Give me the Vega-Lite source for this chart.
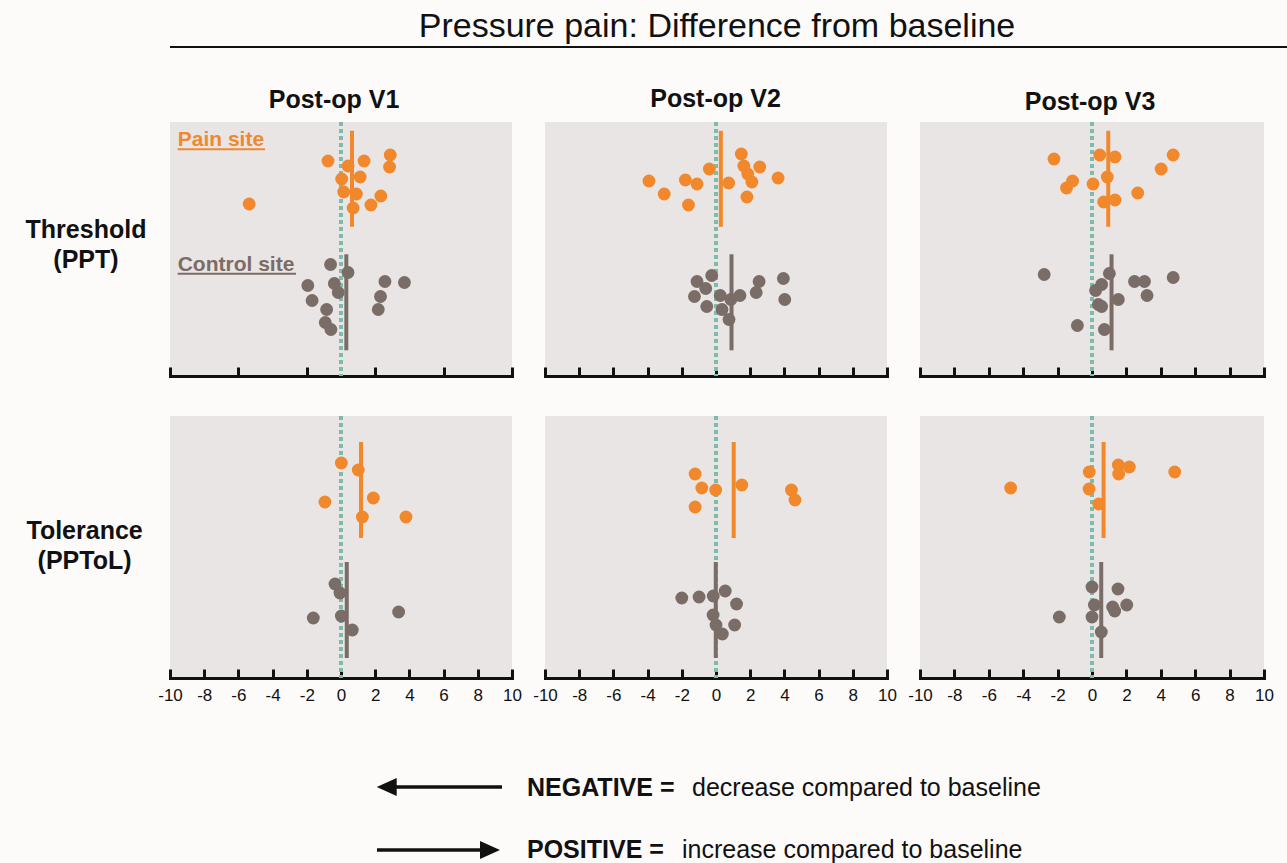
{
 "$schema": "https://vega.github.io/schema/vega-lite/v6.json",
 "background": "#FCFBF9",
 "padding": {"left": 25, "top": 0, "right": 0, "bottom": 0},
 "config": {"font": "Liberation Sans", "view": {"stroke": null},
  "axisX": {"title": null, "grid": false, "domainColor": "#111111", "domainWidth": 3, "domainCap": "square", "tickColor": "#111111", "tickWidth": 3, "tickSize": -9, "zindex": 1, "labelFontSize": 17, "labelColor": "#111111", "labelPadding": 18, "labelFlush": false, "labelOverlap": false}},
 "datasets": {
  "dots": [
   {"visit":"V1","measure":"PPT","site":"Pain site","value":-0.76,"jitter":18},
   {"visit":"V1","measure":"PPT","site":"Pain site","value":0.41,"jitter":13},
   {"visit":"V1","measure":"PPT","site":"Pain site","value":1.35,"jitter":18},
   {"visit":"V1","measure":"PPT","site":"Pain site","value":2.88,"jitter":24},
   {"visit":"V1","measure":"PPT","site":"Pain site","value":2.84,"jitter":12},
   {"visit":"V1","measure":"PPT","site":"Pain site","value":0.04,"jitter":0},
   {"visit":"V1","measure":"PPT","site":"Pain site","value":1.12,"jitter":2},
   {"visit":"V1","measure":"PPT","site":"Pain site","value":0.16,"jitter":-13},
   {"visit":"V1","measure":"PPT","site":"Pain site","value":0.90,"jitter":-15},
   {"visit":"V1","measure":"PPT","site":"Pain site","value":2.33,"jitter":-17},
   {"visit":"V1","measure":"PPT","site":"Pain site","value":1.75,"jitter":-26},
   {"visit":"V1","measure":"PPT","site":"Pain site","value":0.71,"jitter":-29},
   {"visit":"V1","measure":"PPT","site":"Pain site","value":-5.37,"jitter":-25},
   {"visit":"V1","measure":"PPT","site":"Control site","value":-0.61,"jitter":38},
   {"visit":"V1","measure":"PPT","site":"Control site","value":0.41,"jitter":30},
   {"visit":"V1","measure":"PPT","site":"Control site","value":-1.94,"jitter":17},
   {"visit":"V1","measure":"PPT","site":"Control site","value":-0.39,"jitter":19},
   {"visit":"V1","measure":"PPT","site":"Control site","value":-0.16,"jitter":10},
   {"visit":"V1","measure":"PPT","site":"Control site","value":-1.69,"jitter":2},
   {"visit":"V1","measure":"PPT","site":"Control site","value":-0.84,"jitter":-7},
   {"visit":"V1","measure":"PPT","site":"Control site","value":-0.92,"jitter":-20},
   {"visit":"V1","measure":"PPT","site":"Control site","value":-0.59,"jitter":-27},
   {"visit":"V1","measure":"PPT","site":"Control site","value":2.57,"jitter":21},
   {"visit":"V1","measure":"PPT","site":"Control site","value":3.71,"jitter":20},
   {"visit":"V1","measure":"PPT","site":"Control site","value":2.31,"jitter":6},
   {"visit":"V1","measure":"PPT","site":"Control site","value":2.18,"jitter":-7},
   {"visit":"V2","measure":"PPT","site":"Pain site","value":1.48,"jitter":25},
   {"visit":"V2","measure":"PPT","site":"Pain site","value":1.63,"jitter":13},
   {"visit":"V2","measure":"PPT","site":"Pain site","value":2.56,"jitter":12},
   {"visit":"V2","measure":"PPT","site":"Pain site","value":-0.39,"jitter":10},
   {"visit":"V2","measure":"PPT","site":"Pain site","value":1.86,"jitter":5},
   {"visit":"V2","measure":"PPT","site":"Pain site","value":2.10,"jitter":-3},
   {"visit":"V2","measure":"PPT","site":"Pain site","value":3.63,"jitter":1},
   {"visit":"V2","measure":"PPT","site":"Pain site","value":0.74,"jitter":-4},
   {"visit":"V2","measure":"PPT","site":"Pain site","value":-3.92,"jitter":-2},
   {"visit":"V2","measure":"PPT","site":"Pain site","value":-1.79,"jitter":-1},
   {"visit":"V2","measure":"PPT","site":"Pain site","value":-1.11,"jitter":-5},
   {"visit":"V2","measure":"PPT","site":"Pain site","value":-3.03,"jitter":-15},
   {"visit":"V2","measure":"PPT","site":"Pain site","value":-1.61,"jitter":-26},
   {"visit":"V2","measure":"PPT","site":"Pain site","value":1.81,"jitter":-18},
   {"visit":"V2","measure":"PPT","site":"Control site","value":-0.25,"jitter":27},
   {"visit":"V2","measure":"PPT","site":"Control site","value":-1.11,"jitter":21},
   {"visit":"V2","measure":"PPT","site":"Control site","value":-0.60,"jitter":14},
   {"visit":"V2","measure":"PPT","site":"Control site","value":-1.26,"jitter":6},
   {"visit":"V2","measure":"PPT","site":"Control site","value":0.25,"jitter":7},
   {"visit":"V2","measure":"PPT","site":"Control site","value":0.87,"jitter":3},
   {"visit":"V2","measure":"PPT","site":"Control site","value":1.40,"jitter":7},
   {"visit":"V2","measure":"PPT","site":"Control site","value":2.52,"jitter":21},
   {"visit":"V2","measure":"PPT","site":"Control site","value":2.35,"jitter":10},
   {"visit":"V2","measure":"PPT","site":"Control site","value":3.94,"jitter":24},
   {"visit":"V2","measure":"PPT","site":"Control site","value":4.02,"jitter":3},
   {"visit":"V2","measure":"PPT","site":"Control site","value":-0.54,"jitter":-4},
   {"visit":"V2","measure":"PPT","site":"Control site","value":0.35,"jitter":-7},
   {"visit":"V2","measure":"PPT","site":"Control site","value":0.76,"jitter":-17},
   {"visit":"V3","measure":"PPT","site":"Pain site","value":-2.21,"jitter":20},
   {"visit":"V3","measure":"PPT","site":"Pain site","value":0.45,"jitter":24},
   {"visit":"V3","measure":"PPT","site":"Pain site","value":1.34,"jitter":22},
   {"visit":"V3","measure":"PPT","site":"Pain site","value":4.72,"jitter":24},
   {"visit":"V3","measure":"PPT","site":"Pain site","value":4.02,"jitter":10},
   {"visit":"V3","measure":"PPT","site":"Pain site","value":0.89,"jitter":2},
   {"visit":"V3","measure":"PPT","site":"Pain site","value":-1.13,"jitter":-2},
   {"visit":"V3","measure":"PPT","site":"Pain site","value":-1.48,"jitter":-9},
   {"visit":"V3","measure":"PPT","site":"Pain site","value":0.06,"jitter":-5},
   {"visit":"V3","measure":"PPT","site":"Pain site","value":2.66,"jitter":-14},
   {"visit":"V3","measure":"PPT","site":"Pain site","value":0.68,"jitter":-23},
   {"visit":"V3","measure":"PPT","site":"Pain site","value":1.34,"jitter":-21},
   {"visit":"V3","measure":"PPT","site":"Control site","value":-2.78,"jitter":28},
   {"visit":"V3","measure":"PPT","site":"Control site","value":1.01,"jitter":29},
   {"visit":"V3","measure":"PPT","site":"Control site","value":2.47,"jitter":21},
   {"visit":"V3","measure":"PPT","site":"Control site","value":3.05,"jitter":21},
   {"visit":"V3","measure":"PPT","site":"Control site","value":4.72,"jitter":25},
   {"visit":"V3","measure":"PPT","site":"Control site","value":0.56,"jitter":18},
   {"visit":"V3","measure":"PPT","site":"Control site","value":0.21,"jitter":12},
   {"visit":"V3","measure":"PPT","site":"Control site","value":3.20,"jitter":7},
   {"visit":"V3","measure":"PPT","site":"Control site","value":1.53,"jitter":3},
   {"visit":"V3","measure":"PPT","site":"Control site","value":0.37,"jitter":-2},
   {"visit":"V3","measure":"PPT","site":"Control site","value":0.56,"jitter":-4},
   {"visit":"V3","measure":"PPT","site":"Control site","value":-0.85,"jitter":-23},
   {"visit":"V3","measure":"PPT","site":"Control site","value":0.72,"jitter":-27},
   {"visit":"V1","measure":"PPToL","site":"Pain site","value":0.02,"jitter":27},
   {"visit":"V1","measure":"PPToL","site":"Pain site","value":1.01,"jitter":20},
   {"visit":"V1","measure":"PPToL","site":"Pain site","value":1.89,"jitter":-8},
   {"visit":"V1","measure":"PPToL","site":"Pain site","value":-0.94,"jitter":-12},
   {"visit":"V1","measure":"PPToL","site":"Pain site","value":1.25,"jitter":-27},
   {"visit":"V1","measure":"PPToL","site":"Pain site","value":3.80,"jitter":-27},
   {"visit":"V1","measure":"PPToL","site":"Control site","value":-0.35,"jitter":26},
   {"visit":"V1","measure":"PPToL","site":"Control site","value":-0.06,"jitter":17},
   {"visit":"V1","measure":"PPToL","site":"Control site","value":-1.62,"jitter":-8},
   {"visit":"V1","measure":"PPToL","site":"Control site","value":0.02,"jitter":-6},
   {"visit":"V1","measure":"PPToL","site":"Control site","value":3.37,"jitter":-2},
   {"visit":"V1","measure":"PPToL","site":"Control site","value":0.66,"jitter":-20},
   {"visit":"V2","measure":"PPToL","site":"Pain site","value":-1.22,"jitter":16},
   {"visit":"V2","measure":"PPToL","site":"Pain site","value":-0.83,"jitter":2},
   {"visit":"V2","measure":"PPToL","site":"Pain site","value":-0.02,"jitter":0},
   {"visit":"V2","measure":"PPToL","site":"Pain site","value":1.51,"jitter":5},
   {"visit":"V2","measure":"PPToL","site":"Pain site","value":-1.22,"jitter":-17},
   {"visit":"V2","measure":"PPToL","site":"Pain site","value":4.41,"jitter":0},
   {"visit":"V2","measure":"PPToL","site":"Pain site","value":4.62,"jitter":-10},
   {"visit":"V2","measure":"PPToL","site":"Control site","value":0.54,"jitter":19},
   {"visit":"V2","measure":"PPToL","site":"Control site","value":-2.0,"jitter":12},
   {"visit":"V2","measure":"PPToL","site":"Control site","value":-0.99,"jitter":13},
   {"visit":"V2","measure":"PPToL","site":"Control site","value":-0.16,"jitter":14},
   {"visit":"V2","measure":"PPToL","site":"Control site","value":1.20,"jitter":6},
   {"visit":"V2","measure":"PPToL","site":"Control site","value":-0.17,"jitter":-5},
   {"visit":"V2","measure":"PPToL","site":"Control site","value":0.0,"jitter":-15},
   {"visit":"V2","measure":"PPToL","site":"Control site","value":1.09,"jitter":-15},
   {"visit":"V2","measure":"PPToL","site":"Control site","value":0.37,"jitter":-24},
   {"visit":"V3","measure":"PPToL","site":"Pain site","value":1.53,"jitter":25},
   {"visit":"V3","measure":"PPToL","site":"Pain site","value":2.17,"jitter":23},
   {"visit":"V3","measure":"PPToL","site":"Pain site","value":1.55,"jitter":16},
   {"visit":"V3","measure":"PPToL","site":"Pain site","value":-0.16,"jitter":18},
   {"visit":"V3","measure":"PPToL","site":"Pain site","value":4.81,"jitter":18},
   {"visit":"V3","measure":"PPToL","site":"Pain site","value":-4.73,"jitter":2},
   {"visit":"V3","measure":"PPToL","site":"Pain site","value":-0.17,"jitter":1},
   {"visit":"V3","measure":"PPToL","site":"Pain site","value":0.39,"jitter":-14},
   {"visit":"V3","measure":"PPToL","site":"Control site","value":0.0,"jitter":23},
   {"visit":"V3","measure":"PPToL","site":"Control site","value":1.51,"jitter":21},
   {"visit":"V3","measure":"PPToL","site":"Control site","value":0.14,"jitter":5},
   {"visit":"V3","measure":"PPToL","site":"Control site","value":1.20,"jitter":3},
   {"visit":"V3","measure":"PPToL","site":"Control site","value":1.32,"jitter":-1},
   {"visit":"V3","measure":"PPToL","site":"Control site","value":2.02,"jitter":5},
   {"visit":"V3","measure":"PPToL","site":"Control site","value":-1.90,"jitter":-7},
   {"visit":"V3","measure":"PPToL","site":"Control site","value":0.0,"jitter":-7},
   {"visit":"V3","measure":"PPToL","site":"Control site","value":0.54,"jitter":-22}
  ]
 },
 "bounds": "flush",
 "columns": 3,
 "spacing": {"row": 40, "column": 33},
 "resolve": {"scale": {"x": "independent", "y": "independent", "yOffset": "independent", "color": "independent"}},
 "concat": [
  {
   "width": 342, "height": 82,
   "data": {"values": [{}]},
   "layer": [
    {"mark": {"type": "rule", "color": "#111111", "strokeWidth": 2},
     "encoding": {
      "x": {"datum": 0, "type": "quantitative", "scale": {"domain": [0, 342], "nice": false, "zero": false}, "axis": null},
      "x2": {"datum": 375},
      "y": {"datum": 47, "type": "quantitative", "scale": {"domain": [0, 82], "reverse": true, "nice": false, "zero": false}, "axis": null}}},
    {"mark": {"type": "text", "fontSize": 25, "fontWeight": "bold", "color": "#111111", "align": "center", "baseline": "alphabetic"},
     "encoding": {"x": {"datum": 164, "type": "quantitative"}, "y": {"datum": 108, "type": "quantitative"}, "text": {"value": "Post-op V1"}}}
   ]
  },
  {
   "width": 342, "height": 82,
   "data": {"values": [{}]},
   "layer": [
    {"mark": {"type": "rule", "color": "#111111", "strokeWidth": 2},
     "encoding": {
      "x": {"datum": 0, "type": "quantitative", "scale": {"domain": [0, 342], "nice": false, "zero": false}, "axis": null},
      "x2": {"datum": 375},
      "y": {"datum": 47, "type": "quantitative", "scale": {"domain": [0, 82], "reverse": true, "nice": false, "zero": false}, "axis": null}}},
    {"mark": {"type": "text", "fontSize": 34, "color": "#111111", "align": "center", "baseline": "alphabetic"},
     "encoding": {"x": {"datum": 172, "type": "quantitative"}, "y": {"datum": 37, "type": "quantitative"}, "text": {"value": "Pressure pain: Difference from baseline"}}},
    {"mark": {"type": "text", "fontSize": 25, "fontWeight": "bold", "color": "#111111", "align": "center", "baseline": "alphabetic"},
     "encoding": {"x": {"datum": 170.5, "type": "quantitative"}, "y": {"datum": 106.7, "type": "quantitative"}, "text": {"value": "Post-op V2"}}}
   ]
  },
  {
   "width": 344, "height": 82,
   "data": {"values": [{}]},
   "layer": [
    {"mark": {"type": "rule", "color": "#111111", "strokeWidth": 2},
     "encoding": {
      "x": {"datum": 0, "type": "quantitative", "scale": {"domain": [0, 344], "nice": false, "zero": false}, "axis": null},
      "x2": {"datum": 367},
      "y": {"datum": 47, "type": "quantitative", "scale": {"domain": [0, 82], "reverse": true, "nice": false, "zero": false}, "axis": null}}},
    {"mark": {"type": "text", "fontSize": 25, "fontWeight": "bold", "color": "#111111", "align": "center", "baseline": "alphabetic"},
     "encoding": {"x": {"datum": 170, "type": "quantitative"}, "y": {"datum": 110, "type": "quantitative"}, "text": {"value": "Post-op V3"}}}
   ]
  },
  {
   "width": 342, "height": 254,
   "view": {"fill": "#E9E5E4", "stroke": null},
   "layer": [
    {"data": {"values": [{}]},
     "mark": {"type": "rule", "color": "#7BBCAD", "strokeWidth": 4, "strokeDash": [4, 3]},
     "encoding": {"x": {"datum": 0, "type": "quantitative", "scale": {"domain": [-10, 10], "nice": false, "zero": false},
       "axis": {"values": [-10,-8,-6,-4,-2,0,2,4,6,8,10], "labels": false}}}},
    {"data": {"name": "dots"},
     "transform": [{"filter": "datum.visit == 'V1' && datum.measure == 'PPT'"}, {"aggregate": [{"op": "mean", "field": "value", "as": "mean"}], "groupby": ["site"]}],
     "mark": {"type": "tick", "thickness": 4, "size": 96, "opacity": 1},
     "encoding": {
      "x": {"field": "mean", "type": "quantitative", "axis": {"values": [-10,-8,-6,-4,-2,0,2,4,6,8,10], "labels": false}},
      "y": {"field": "site", "type": "nominal", "scale": {"type": "band", "domain": ["Pain site", "Control site"], "paddingInner": 0.226, "paddingOuter": 0.141, "align": 0.257},
        "axis": {"title": ["Threshold", "(PPT)"], "labels": false, "ticks": false, "domain": false, "grid": false, "titleAngle": 0, "titleX": -84.5, "titleY": 115, "titleAlign": "center", "titleBaseline": "alphabetic", "titleFontSize": 25, "titleFontWeight": "bold", "titleLineHeight": 30, "titleColor": "#111111"}},
      "color": {"field": "site", "type": "nominal", "scale": {"domain": ["Pain site", "Control site"], "range": ["#F1882C", "#7A6C67"]}, "legend": null}}},
    {"data": {"name": "dots"},
     "transform": [{"filter": "datum.visit == 'V1' && datum.measure == 'PPT'"}],
     "mark": {"type": "circle", "size": 165, "opacity": 1},
     "encoding": {
      "x": {"field": "value", "type": "quantitative", "axis": {"values": [-10,-8,-6,-4,-2,0,2,4,6,8,10], "labels": false}},
      "y": {"field": "site", "type": "nominal"},
      "yOffset": {"field": "jitter", "type": "quantitative", "scale": {"domain": [-48, 48], "range": [96, 0], "nice": false, "zero": false}},
      "color": {"field": "site", "type": "nominal", "legend": null}}},
    {"data": {"values": [{}]},
     "mark": {"type": "text", "fontSize": 21, "fontWeight": "bold", "align": "left", "baseline": "alphabetic", "dy": -33, "color": "#F1882C"},
     "encoding": {"x": {"datum": -9.55, "type": "quantitative"}, "y": {"datum": "Pain site", "type": "nominal"}, "text": {"value": "Pain site"}}},
    {"data": {"values": [{}]},
     "mark": {"type": "rule", "strokeWidth": 2, "yOffset": -29.5, "color": "#F1882C"},
     "encoding": {"x": {"datum": -9.55, "type": "quantitative"}, "x2": {"datum": -4.44}, "y": {"datum": "Pain site", "type": "nominal"}}},
    {"data": {"values": [{}]},
     "mark": {"type": "text", "fontSize": 21, "fontWeight": "bold", "align": "left", "baseline": "alphabetic", "dy": -31, "color": "#7A6C67"},
     "encoding": {"x": {"datum": -9.55, "type": "quantitative"}, "y": {"datum": "Control site", "type": "nominal"}, "text": {"value": "Control site"}}},
    {"data": {"values": [{}]},
     "mark": {"type": "rule", "strokeWidth": 2, "yOffset": -28.5, "color": "#7A6C67"},
     "encoding": {"x": {"datum": -9.55, "type": "quantitative"}, "x2": {"datum": -2.63}, "y": {"datum": "Control site", "type": "nominal"}}}
   ]
  },
  {
   "width": 342, "height": 254,
   "view": {"fill": "#E9E5E4", "stroke": null},
   "layer": [
    {"data": {"values": [{}]},
     "mark": {"type": "rule", "color": "#7BBCAD", "strokeWidth": 4, "strokeDash": [4, 3]},
     "encoding": {"x": {"datum": 0, "type": "quantitative", "scale": {"domain": [-10, 10], "nice": false, "zero": false},
       "axis": {"values": [-10,-8,-6,-4,-2,0,2,4,6,8,10], "labels": false}}}},
    {"data": {"name": "dots"},
     "transform": [{"filter": "datum.visit == 'V2' && datum.measure == 'PPT'"}, {"aggregate": [{"op": "mean", "field": "value", "as": "mean"}], "groupby": ["site"]}],
     "mark": {"type": "tick", "thickness": 4, "size": 96, "opacity": 1},
     "encoding": {
      "x": {"field": "mean", "type": "quantitative", "axis": {"values": [-10,-8,-6,-4,-2,0,2,4,6,8,10], "labels": false}},
      "y": {"field": "site", "type": "nominal", "scale": {"type": "band", "domain": ["Pain site", "Control site"], "paddingInner": 0.226, "paddingOuter": 0.141, "align": 0.257}, "axis": null},
      "color": {"field": "site", "type": "nominal", "scale": {"domain": ["Pain site", "Control site"], "range": ["#F1882C", "#7A6C67"]}, "legend": null}}},
    {"data": {"name": "dots"},
     "transform": [{"filter": "datum.visit == 'V2' && datum.measure == 'PPT'"}],
     "mark": {"type": "circle", "size": 165, "opacity": 1},
     "encoding": {
      "x": {"field": "value", "type": "quantitative", "axis": {"values": [-10,-8,-6,-4,-2,0,2,4,6,8,10], "labels": false}},
      "y": {"field": "site", "type": "nominal", "axis": null},
      "yOffset": {"field": "jitter", "type": "quantitative", "scale": {"domain": [-48, 48], "range": [96, 0], "nice": false, "zero": false}},
      "color": {"field": "site", "type": "nominal", "legend": null}}}
   ]
  },
  {
   "width": 344, "height": 254,
   "view": {"fill": "#E9E5E4", "stroke": null},
   "layer": [
    {"data": {"values": [{}]},
     "mark": {"type": "rule", "color": "#7BBCAD", "strokeWidth": 4, "strokeDash": [4, 3]},
     "encoding": {"x": {"datum": 0, "type": "quantitative", "scale": {"domain": [-10, 10], "nice": false, "zero": false},
       "axis": {"values": [-10,-8,-6,-4,-2,0,2,4,6,8,10], "labels": false}}}},
    {"data": {"name": "dots"},
     "transform": [{"filter": "datum.visit == 'V3' && datum.measure == 'PPT'"}, {"aggregate": [{"op": "mean", "field": "value", "as": "mean"}], "groupby": ["site"]}],
     "mark": {"type": "tick", "thickness": 4, "size": 96, "opacity": 1},
     "encoding": {
      "x": {"field": "mean", "type": "quantitative", "axis": {"values": [-10,-8,-6,-4,-2,0,2,4,6,8,10], "labels": false}},
      "y": {"field": "site", "type": "nominal", "scale": {"type": "band", "domain": ["Pain site", "Control site"], "paddingInner": 0.226, "paddingOuter": 0.141, "align": 0.257}, "axis": null},
      "color": {"field": "site", "type": "nominal", "scale": {"domain": ["Pain site", "Control site"], "range": ["#F1882C", "#7A6C67"]}, "legend": null}}},
    {"data": {"name": "dots"},
     "transform": [{"filter": "datum.visit == 'V3' && datum.measure == 'PPT'"}],
     "mark": {"type": "circle", "size": 165, "opacity": 1},
     "encoding": {
      "x": {"field": "value", "type": "quantitative", "axis": {"values": [-10,-8,-6,-4,-2,0,2,4,6,8,10], "labels": false}},
      "y": {"field": "site", "type": "nominal", "axis": null},
      "yOffset": {"field": "jitter", "type": "quantitative", "scale": {"domain": [-48, 48], "range": [96, 0], "nice": false, "zero": false}},
      "color": {"field": "site", "type": "nominal", "legend": null}}}
   ]
  },
  {
   "width": 342, "height": 262,
   "view": {"fill": "#E9E5E4", "stroke": null},
   "layer": [
    {"data": {"values": [{}]},
     "mark": {"type": "rule", "color": "#7BBCAD", "strokeWidth": 4, "strokeDash": [4, 3]},
     "encoding": {"x": {"datum": 0, "type": "quantitative", "scale": {"domain": [-10, 10], "nice": false, "zero": false},
       "axis": {"values": [-10,-8,-6,-4,-2,0,2,4,6,8,10], "labelExpr": "datum.value + ''"}}}},
    {"data": {"name": "dots"},
     "transform": [{"filter": "datum.visit == 'V1' && datum.measure == 'PPToL'"}, {"aggregate": [{"op": "mean", "field": "value", "as": "mean"}], "groupby": ["site"]}],
     "mark": {"type": "tick", "thickness": 4, "size": 96, "opacity": 1},
     "encoding": {
      "x": {"field": "mean", "type": "quantitative", "axis": {"values": [-10,-8,-6,-4,-2,0,2,4,6,8,10], "labelExpr": "datum.value + ''"}},
      "y": {"field": "site", "type": "nominal", "scale": {"type": "band", "domain": ["Pain site", "Control site"], "paddingInner": 0.2, "paddingOuter": 0.192, "align": 0.565},
        "axis": {"title": ["Tolerance", "(PPToL)"], "labels": false, "ticks": false, "domain": false, "grid": false, "titleAngle": 0, "titleX": -85.9, "titleY": 122, "titleAlign": "center", "titleBaseline": "alphabetic", "titleFontSize": 25, "titleFontWeight": "bold", "titleLineHeight": 30, "titleColor": "#111111"}},
      "color": {"field": "site", "type": "nominal", "scale": {"domain": ["Pain site", "Control site"], "range": ["#F1882C", "#7A6C67"]}, "legend": null}}},
    {"data": {"name": "dots"},
     "transform": [{"filter": "datum.visit == 'V1' && datum.measure == 'PPToL'"}],
     "mark": {"type": "circle", "size": 165, "opacity": 1},
     "encoding": {
      "x": {"field": "value", "type": "quantitative", "axis": {"values": [-10,-8,-6,-4,-2,0,2,4,6,8,10], "labelExpr": "datum.value + ''"}},
      "y": {"field": "site", "type": "nominal"},
      "yOffset": {"field": "jitter", "type": "quantitative", "scale": {"domain": [-48, 48], "range": [96, 0], "nice": false, "zero": false}},
      "color": {"field": "site", "type": "nominal", "legend": null}}}
   ]
  },
  {
   "width": 342, "height": 262,
   "view": {"fill": "#E9E5E4", "stroke": null},
   "layer": [
    {"data": {"values": [{}]},
     "mark": {"type": "rule", "color": "#7BBCAD", "strokeWidth": 4, "strokeDash": [4, 3]},
     "encoding": {"x": {"datum": 0, "type": "quantitative", "scale": {"domain": [-10, 10], "nice": false, "zero": false},
       "axis": {"values": [-10,-8,-6,-4,-2,0,2,4,6,8,10], "labelExpr": "datum.value + ''"}}}},
    {"data": {"name": "dots"},
     "transform": [{"filter": "datum.visit == 'V2' && datum.measure == 'PPToL'"}, {"aggregate": [{"op": "mean", "field": "value", "as": "mean"}], "groupby": ["site"]}],
     "mark": {"type": "tick", "thickness": 4, "size": 96, "opacity": 1},
     "encoding": {
      "x": {"field": "mean", "type": "quantitative", "axis": {"values": [-10,-8,-6,-4,-2,0,2,4,6,8,10], "labelExpr": "datum.value + ''"}},
      "y": {"field": "site", "type": "nominal", "scale": {"type": "band", "domain": ["Pain site", "Control site"], "paddingInner": 0.2, "paddingOuter": 0.192, "align": 0.565}, "axis": null},
      "color": {"field": "site", "type": "nominal", "scale": {"domain": ["Pain site", "Control site"], "range": ["#F1882C", "#7A6C67"]}, "legend": null}}},
    {"data": {"name": "dots"},
     "transform": [{"filter": "datum.visit == 'V2' && datum.measure == 'PPToL'"}],
     "mark": {"type": "circle", "size": 165, "opacity": 1},
     "encoding": {
      "x": {"field": "value", "type": "quantitative", "axis": {"values": [-10,-8,-6,-4,-2,0,2,4,6,8,10], "labelExpr": "datum.value + ''"}},
      "y": {"field": "site", "type": "nominal", "axis": null},
      "yOffset": {"field": "jitter", "type": "quantitative", "scale": {"domain": [-48, 48], "range": [96, 0], "nice": false, "zero": false}},
      "color": {"field": "site", "type": "nominal", "legend": null}}}
   ]
  },
  {
   "width": 344, "height": 262,
   "view": {"fill": "#E9E5E4", "stroke": null},
   "layer": [
    {"data": {"values": [{}]},
     "mark": {"type": "rule", "color": "#7BBCAD", "strokeWidth": 4, "strokeDash": [4, 3]},
     "encoding": {"x": {"datum": 0, "type": "quantitative", "scale": {"domain": [-10, 10], "nice": false, "zero": false},
       "axis": {"values": [-10,-8,-6,-4,-2,0,2,4,6,8,10], "labelExpr": "datum.value + ''"}}}},
    {"data": {"name": "dots"},
     "transform": [{"filter": "datum.visit == 'V3' && datum.measure == 'PPToL'"}, {"aggregate": [{"op": "mean", "field": "value", "as": "mean"}], "groupby": ["site"]}],
     "mark": {"type": "tick", "thickness": 4, "size": 96, "opacity": 1},
     "encoding": {
      "x": {"field": "mean", "type": "quantitative", "axis": {"values": [-10,-8,-6,-4,-2,0,2,4,6,8,10], "labelExpr": "datum.value + ''"}},
      "y": {"field": "site", "type": "nominal", "scale": {"type": "band", "domain": ["Pain site", "Control site"], "paddingInner": 0.2, "paddingOuter": 0.192, "align": 0.565}, "axis": null},
      "color": {"field": "site", "type": "nominal", "scale": {"domain": ["Pain site", "Control site"], "range": ["#F1882C", "#7A6C67"]}, "legend": null}}},
    {"data": {"name": "dots"},
     "transform": [{"filter": "datum.visit == 'V3' && datum.measure == 'PPToL'"}],
     "mark": {"type": "circle", "size": 165, "opacity": 1},
     "encoding": {
      "x": {"field": "value", "type": "quantitative", "axis": {"values": [-10,-8,-6,-4,-2,0,2,4,6,8,10], "labelExpr": "datum.value + ''"}},
      "y": {"field": "site", "type": "nominal", "axis": null},
      "yOffset": {"field": "jitter", "type": "quantitative", "scale": {"domain": [-48, 48], "range": [96, 0], "nice": false, "zero": false}},
      "color": {"field": "site", "type": "nominal", "legend": null}}}
   ]
  },
  {
   "width": 342, "height": 145,
   "data": {"values": [{}]},
   "layer": [
    {"mark": {"type": "rule", "color": "#111111", "strokeWidth": 3.5},
     "encoding": {
      "x": {"datum": 223, "type": "quantitative", "scale": {"domain": [0, 342], "nice": false, "zero": false}, "axis": null},
      "x2": {"datum": 332},
      "y": {"datum": 69, "type": "quantitative", "scale": {"domain": [0, 145], "reverse": true, "nice": false, "zero": false}, "axis": null}}},
    {"mark": {"type": "point", "shape": "M-1,0L1,-0.9L1,0.9Z", "size": 400, "filled": true, "color": "#111111", "opacity": 1, "strokeWidth": 0},
     "encoding": {"x": {"datum": 216.7, "type": "quantitative"}, "y": {"datum": 69, "type": "quantitative"}}},
    {"mark": {"type": "rule", "color": "#111111", "strokeWidth": 3.5},
     "encoding": {"x": {"datum": 207, "type": "quantitative"}, "x2": {"datum": 312}, "y": {"datum": 132, "type": "quantitative"}}},
    {"mark": {"type": "point", "shape": "M1,0L-1,-0.9L-1,0.9Z", "size": 400, "filled": true, "color": "#111111", "opacity": 1, "strokeWidth": 0},
     "encoding": {"x": {"datum": 320, "type": "quantitative"}, "y": {"datum": 132, "type": "quantitative"}}},
    {"mark": {"type": "text", "fontSize": 25, "fontWeight": "bold", "align": "left", "baseline": "alphabetic", "color": "#111111"},
     "encoding": {"x": {"datum": 357, "type": "quantitative"}, "y": {"datum": 78, "type": "quantitative"}, "text": {"value": "NEGATIVE ="}}},
    {"mark": {"type": "text", "fontSize": 25, "fontWeight": "bold", "align": "left", "baseline": "alphabetic", "color": "#111111"},
     "encoding": {"x": {"datum": 357, "type": "quantitative"}, "y": {"datum": 140, "type": "quantitative"}, "text": {"value": "POSITIVE ="}}}
   ]
  },
  {
   "width": 342, "height": 145,
   "data": {"values": [{}]},
   "layer": [
    {"mark": {"type": "text", "fontSize": 25, "align": "left", "baseline": "alphabetic", "color": "#111111"},
     "encoding": {
      "x": {"datum": 147, "type": "quantitative", "scale": {"domain": [0, 342], "nice": false, "zero": false}, "axis": null},
      "y": {"datum": 78, "type": "quantitative", "scale": {"domain": [0, 145], "reverse": true, "nice": false, "zero": false}, "axis": null},
      "text": {"value": "decrease compared to baseline"}}},
    {"mark": {"type": "text", "fontSize": 25, "align": "left", "baseline": "alphabetic", "color": "#111111"},
     "encoding": {"x": {"datum": 137, "type": "quantitative"}, "y": {"datum": 140, "type": "quantitative"}, "text": {"value": "increase compared to baseline"}}}
   ]
  }
 ]
}
